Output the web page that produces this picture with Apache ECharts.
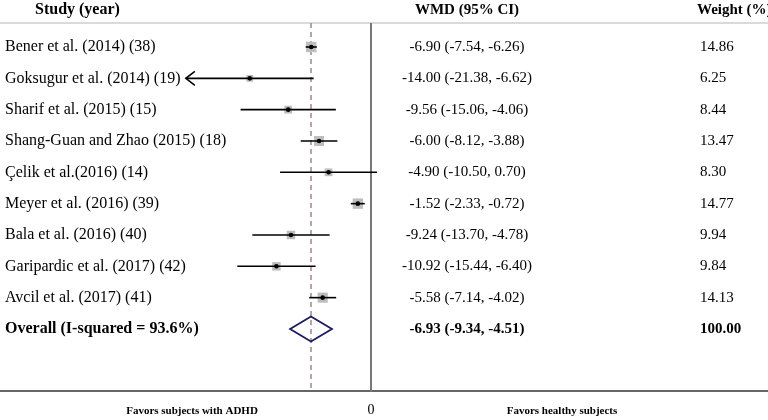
<!DOCTYPE html>
<html>
<head>
<meta charset="utf-8">
<script src="https://cdn.jsdelivr.net/npm/echarts@6/dist/echarts.min.js"></script>
<style>
html,body{margin:0;padding:0;background:#fff;}
#main{width:768px;height:420px;}
</style>
</head>
<body>
<div id="main"></div>
<script>
// ---- data ----
var studies = [
  'Bener et al. (2014) (38)',
  'Goksugur et al. (2014) (19)',
  'Sharif et al. (2015) (15)',
  'Shang-Guan and Zhao (2015) (18)',
  'Çelik et al.(2016) (14)',
  'Meyer et al. (2016) (39)',
  'Bala et al. (2016) (40)',
  'Garipardic et al. (2017) (42)',
  'Avcil et al. (2017) (41)'
];
var wmd   = [-6.90, -14.00, -9.56, -6.00, -4.90, -1.52, -9.24, -10.92, -5.58];
var lower = [-7.54, -21.38, -15.06, -8.12, -10.50, -2.33, -13.70, -15.44, -7.14];
var upper = [-6.26, -6.62, -4.06, -3.88, 0.70, -0.72, -4.78, -6.40, -4.02];
var weights = ['14.86', '6.25', '8.44', '13.47', '8.30', '14.77', '9.94', '9.84', '14.13'];
var arrowLow = [false, true, false, false, false, false, false, false, false];
var overallLabel = 'Overall (I-squared = 93.6%)';
var overallEst = -6.93, overallLow = -9.34, overallHigh = -4.51;
var overallWeight = '100.00';
var xTickLabels = ['0'];

// ---- layout ----
var FONT = '"Liberation Serif", "Times New Roman", serif';
var xMin = -25, xMax = 5;
var gridLeft = 154.5, gridWidth = 259.8;
var rowTop = -0.766, rowBottom = 10.98;
var wmdX = 467, weightX = 700, labelX = 5;

function fmt(v){ return v.toFixed(2); }

var rows = [];
for (var i = 0; i < studies.length; i++) {
  rows.push({value:[i, wmd[i], lower[i], upper[i], parseFloat(weights[i])], kind:'study', idx:i});
}
rows.push({value:[studies.length, overallEst, overallLow, overallHigh, 100], kind:'overall', idx:-1});

var chart = echarts.init(document.getElementById('main'), null, {renderer:'canvas'});

function renderItem(params, api) {
  var d = rows[params.dataIndex];
  var r = api.value(0), est = api.value(1), lo = api.value(2), hi = api.value(3), w = api.value(4);
  var pEst = api.coord([est, r]);
  var pLo = api.coord([lo, r]);
  var pHi = api.coord([hi, r]);
  var y = pEst[1];
  var children = [];
  var txtBase = {fill:'#000', verticalAlign:'middle'};
  if (d.kind === 'study') {
    var i = d.idx;
    var side = 2.7 * Math.sqrt(w);
    children.push({type:'rect', shape:{x:pEst[0]-side/2, y:y-side/2, width:side, height:side},
      style:{fill:'#bdbdbd'}, z2:1});
    children.push({type:'line', shape:{x1:pLo[0], y1:y, x2:pHi[0], y2:y},
      style:{stroke:'#000', lineWidth:1.6}, z2:2});
    if (arrowLow[i]) {
      children.push({type:'polyline', shape:{points:[[pLo[0]+9, y-7],[pLo[0], y],[pLo[0]+9, y+7]]},
        style:{stroke:'#000', lineWidth:1.6, fill:null}, z2:2});
    }
    children.push({type:'circle', shape:{cx:pEst[0], cy:y, r:2.3}, style:{fill:'#000'}, z2:3});
    children.push({type:'text', style:Object.assign({text:studies[i], x:labelX, y:y, align:'left',
      font:'16px ' + FONT}, txtBase)});
    children.push({type:'text', style:Object.assign({text:fmt(wmd[i]) + ' (' + fmt(lower[i]) + ', ' + fmt(upper[i]) + ')',
      x:wmdX, y:y, align:'center', font:'15px ' + FONT}, txtBase)});
    children.push({type:'text', style:Object.assign({text:weights[i], x:weightX, y:y, align:'left',
      font:'15px ' + FONT}, txtBase)});
  } else {
    var h = 12.5;
    children.push({type:'polygon', shape:{points:[[pLo[0], y],[pEst[0], y-h],[pHi[0], y],[pEst[0], y+h]]},
      style:{fill:'none', stroke:'#1a1a5e', lineWidth:1.8}, z2:2});
    children.push({type:'text', style:Object.assign({text:overallLabel, x:labelX, y:y, align:'left',
      font:'bold 16px ' + FONT}, txtBase)});
    children.push({type:'text', style:Object.assign({text:fmt(overallEst) + ' (' + fmt(overallLow) + ', ' + fmt(overallHigh) + ')',
      x:wmdX, y:y, align:'center', font:'bold 15px ' + FONT}, txtBase)});
    children.push({type:'text', style:Object.assign({text:overallWeight, x:weightX, y:y, align:'left',
      font:'bold 15px ' + FONT}, txtBase)});
  }
  return {type:'group', children:children};
}

var option = {
  animation:false,
  backgroundColor:'#fff',
  grid:{left:gridLeft, width:gridWidth, top:23, height:368},
  xAxis:{type:'value', min:xMin, max:xMax, interval:5,
    axisLine:{show:false}, splitLine:{show:false}, axisTick:{show:false},
    axisLabel:{margin:12, fontFamily:FONT, fontSize:14, color:'#000',
      formatter:function(v){ return xTickLabels.indexOf(String(v)) >= 0 ? String(v) : ''; }}},
  yAxis:{type:'value', min:rowTop, max:rowBottom, inverse:true, show:false},
  graphic:[
    {type:'line', shape:{x1:0, y1:23, x2:768, y2:23}, style:{stroke:'#b5b5b5', lineWidth:1.2}, z:0},
    {type:'line', shape:{x1:0, y1:391, x2:768, y2:391}, style:{stroke:'#666', lineWidth:2}, z:0},
    {type:'text', style:{text:'Study (year)', x:35, y:10, verticalAlign:'middle', font:'bold 16px ' + FONT, fill:'#000'}},
    {type:'text', style:{text:'WMD (95% CI)', x:wmdX, y:10, align:'center', verticalAlign:'middle', font:'bold 15px ' + FONT, fill:'#000'}},
    {type:'text', style:{text:'Weight (%)', x:697, y:10, verticalAlign:'middle', font:'bold 15px ' + FONT, fill:'#000'}},
    {type:'text', style:{text:'Favors subjects with ADHD', x:192, y:411, align:'center', verticalAlign:'middle', font:'bold 11px ' + FONT, fill:'#000'}},
    {type:'text', style:{text:'Favors healthy subjects', x:562, y:411, align:'center', verticalAlign:'middle', font:'bold 11px ' + FONT, fill:'#000'}}
  ],
  series:[
    {type:'line', data:[[0, rowTop],[0, rowBottom + 0.25]], symbol:'none',
      lineStyle:{color:'#777', width:2}, silent:true, z:1},
    {type:'line', data:[[overallEst, rowTop],[overallEst, rowBottom]], symbol:'none',
      lineStyle:{color:'#a48d96', width:1.6, type:[5,4]}, silent:true, z:1},
    {type:'custom', renderItem:renderItem, data:rows, clip:false, z:3}
  ]
};
chart.setOption(option);
</script>
</body>
</html>
